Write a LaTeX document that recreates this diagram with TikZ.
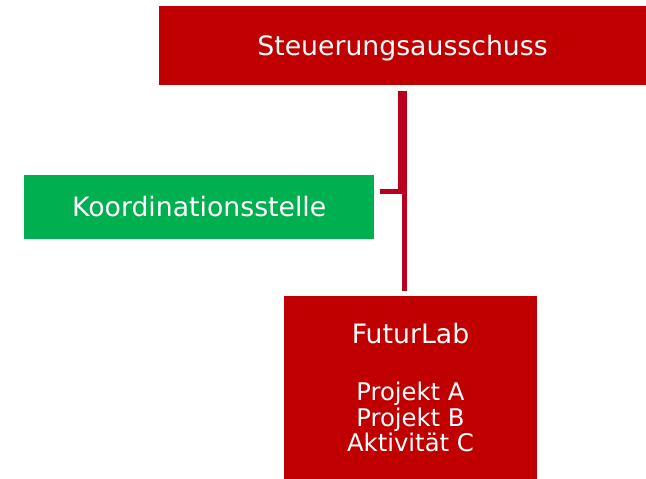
\documentclass[tikz,border=0pt]{standalone}
\usepackage{fontspec}
\setmainfont{DejaVu Sans}
\usetikzlibrary{positioning}
\definecolor{boxred}{RGB}{192,0,0}
\definecolor{boxgreen}{RGB}{0,176,80}
\definecolor{linkred}{RGB}{185,0,30}
\tikzset{
  orgbox/.style={rectangle, inner sep=0pt, text=white, font=\fontsize{26.8}{32}\selectfont},
  oneline/.style={orgbox, text height=19.5bp, text depth=0bp},
  link/.style={draw=linkred, line width=5bp, line cap=butt}
}
\newcommand\bigline[1]{{\fontsize{26.8}{32}\selectfont #1}}
\begin{document}
\begin{tikzpicture}[x=1bp,y=1bp]

\useasboundingbox (0,0) rectangle (646,479);

\node[oneline, fill=boxred, minimum width=487bp, minimum height=79bp] (steer) at (402.5,433.5) {Steuerungsausschuss};
\node[oneline, fill=boxgreen, minimum width=350bp, minimum height=64bp] (koord) at (199.2,271.8) {Koordinationsstelle};
\node[orgbox, fill=boxred, align=center, minimum width=253bp, minimum height=183bp,
      font=\fontsize{24.4}{25.5}\selectfont] (futur) at (410.5,91.5)
  {\bigline{FuturLab}\\[32bp]Projekt A\\Projekt B\\Aktivität C};

\coordinate (stem) at ([xshift=1.7bp]steer.south);
\coordinate (branch) at ([yshift=15.5bp]koord.east);

\draw[link, shorten <=6bp, shorten >=5bp] (stem) -- (stem |- futur.north);
\draw[link, shorten <=6bp, shorten >=6bp] (branch) -| ([xshift=-2bp]steer.south);

\end{tikzpicture}
\end{document}
